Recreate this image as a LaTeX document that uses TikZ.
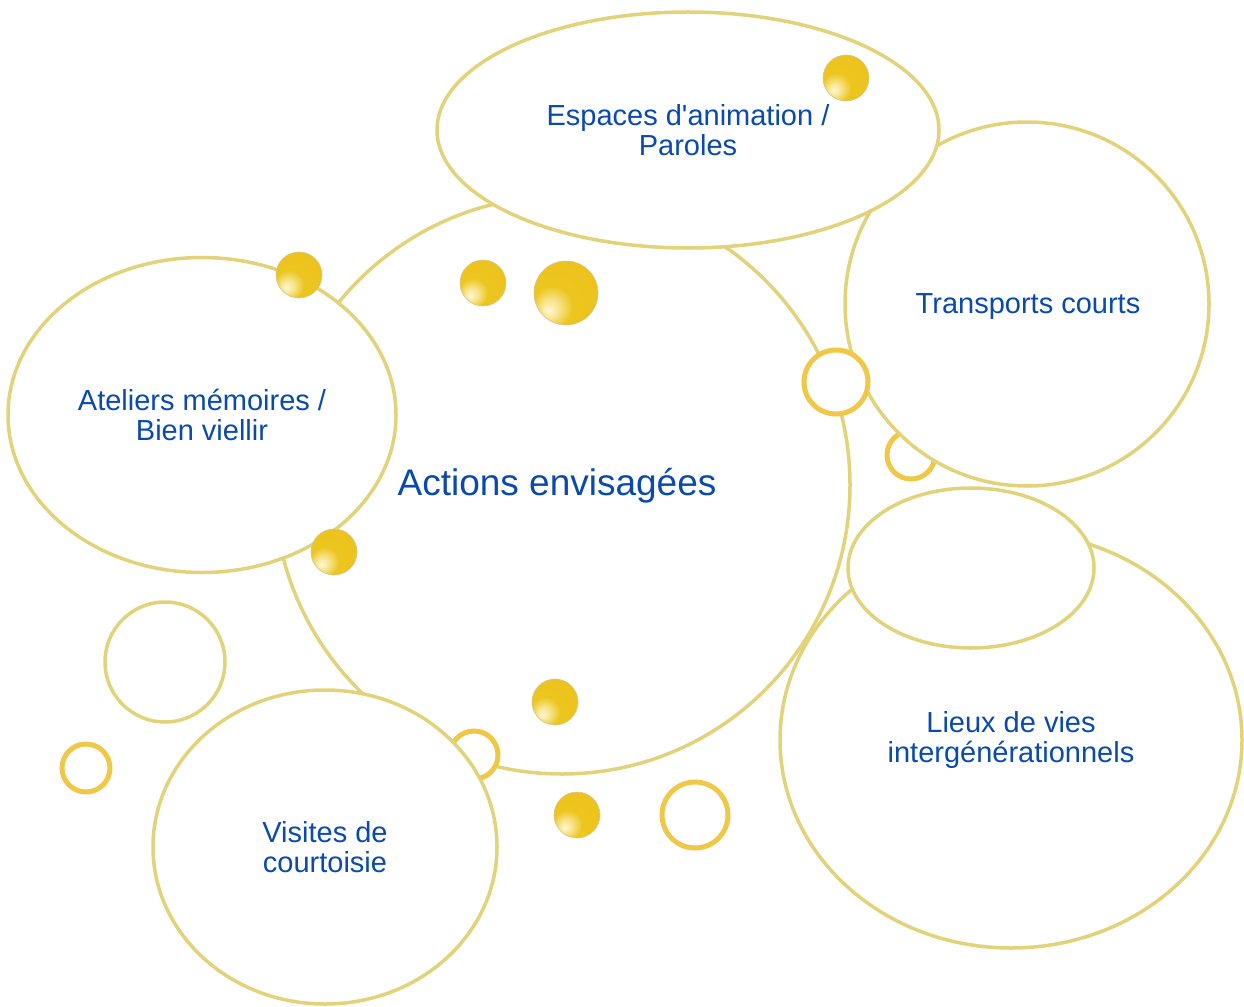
\documentclass[tikz,border=0pt]{standalone}
\usepackage{fontspec}
\setmainfont{Liberation Sans}
\usepackage{tikz}
\usetikzlibrary{shapes.geometric,positioning}

\definecolor{paleline}{RGB}{226,210,122}
\definecolor{ringgold}{RGB}{240,200,72}
\definecolor{pearlgold}{RGB}{236,198,30}
\definecolor{pearlhi}{RGB}{255,248,215}
\definecolor{pearlrim}{RGB}{185,160,80}
\definecolor{labelblue}{RGB}{10,74,172}

\pgfdeclareradialshading{pearlshade}{\pgfpoint{-14bp}{-14bp}}{%
  color(0bp)=(pearlhi); color(7bp)=(pearlhi!60!pearlgold);
  color(16bp)=(pearlgold); color(40bp)=(pearlgold!92!orange);
  color(56bp)=(pearlgold!85!pearlrim); color(66bp)=(pearlrim)}

\tikzset{
  bubble/.style={ellipse,draw=paleline,line width=3.5pt,fill=white,inner sep=0pt,text=labelblue,align=center,font=\fontsize{29}{30}\selectfont},
  ring/.style={circle,draw=ringgold,line width=5pt,fill=white,inner sep=0pt},
  pearl/.style={circle,inner sep=0pt,minimum size=46pt,shading=pearlshade,draw=pearlrim!60,line width=0.6pt},
  tag/.style={text=labelblue,align=center,font=\fontsize{29}{30}\selectfont}
}

\begin{document}
\begin{tikzpicture}[x=1pt,y=-1pt]
\useasboundingbox (0,0) rectangle (1244,1006);
% ring half hidden
\node[ring,minimum size=48pt] (r1) at (911,455) {};
% centre
\node[bubble,minimum width=576pt,minimum height=578pt] (actions) at (562,485) {};
\node[ring,minimum size=48pt] (r2) at (474,755) {};
\node[bubble,minimum width=364pt,minimum height=364pt] (transports) at (1027,304) {};
\node[bubble,minimum width=502pt,minimum height=236pt] (espaces) at (688,130) {Espaces d\textquotesingle animation /\\Paroles};
\node[bubble,minimum width=388pt,minimum height=315pt] (ateliers) at (202,415) {Ateliers m\'emoires /\\Bien viellir};
\node[bubble,minimum width=462pt,minimum height=416pt] (lieux) at (1011,740) {};
\node[bubble,minimum width=246pt,minimum height=160pt] (petit) at (971,568) {};
\node[bubble,minimum width=344pt,minimum height=314pt] (visites) at (325,847) {Visites de\\courtoisie};
\node[bubble,minimum width=120pt,minimum height=120pt] (vide) at (165,662) {};
% labels
\node[tag,font=\fontsize{37}{40}\selectfont] (actionstxt) at (557,486) {Actions envisag\'ees};
\node[tag] (transportstxt) at (1028,307) {Transports courts};
\node[tag] (lieuxtxt) at (1011,740) {Lieux de vies\\interg\'en\'erationnels};
% rings on top
\node[ring,minimum size=64pt] (r3) at (836,382) {};
\node[ring,minimum size=48pt] (r4) at (86,768) {};
\node[ring,minimum size=66pt] (r5) at (695,815) {};
% pearls
\node[pearl] (p1) at (846,78) {};
\node[pearl] (p2) at (299,275) {};
\node[pearl] (p3) at (483,283) {};
\node[pearl,minimum size=64pt] (p4) at (566,293) {};
\node[pearl] (p5) at (334,552) {};
\node[pearl] (p6) at (555,702) {};
\node[pearl] (p7) at (577,815) {};
\end{tikzpicture}
\end{document}
